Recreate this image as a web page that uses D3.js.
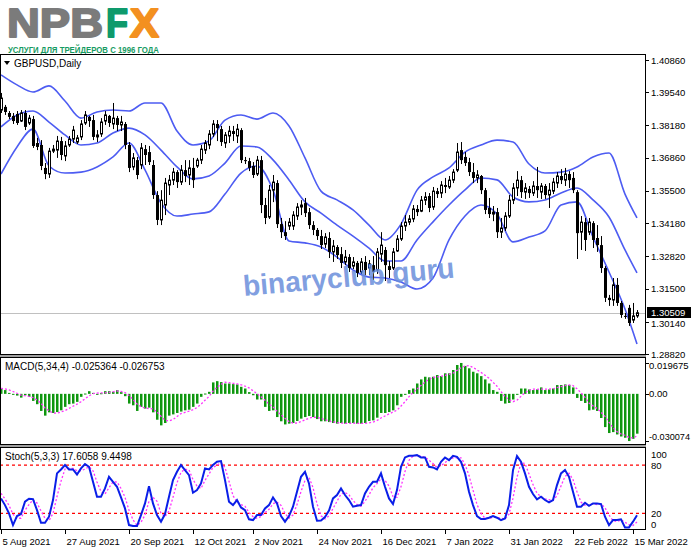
<!DOCTYPE html>
<html><head><meta charset="utf-8">
<script src="https://cdn.jsdelivr.net/npm/d3@7"></script>
<style>body{margin:0;background:#fff;}svg{display:block;font-family:"Liberation Sans",Arial,sans-serif;}</style>
</head><body><svg id="c" width="691" height="549"></svg>
<script>
const opens=[1.3881,1.3894,1.3869,1.3857,1.3865,1.3836,1.3869,1.3828,1.3844,1.3746,
1.3738,1.3644,1.3619,1.3713,1.3717,1.3754,1.3693,1.3738,1.3762,1.3750,
1.3771,1.3828,1.3853,1.3840,1.3771,1.3783,1.3836,1.3857,1.3824,1.3848,
1.3820,1.3824,1.3738,1.3648,1.3676,1.3656,1.3721,1.3709,1.3656,1.3533,
1.3431,1.3492,1.3574,1.3594,1.3627,1.3586,1.3635,1.3615,1.3644,1.3652,
1.3676,1.3717,1.3738,1.3783,1.3824,1.3803,1.3746,1.3775,1.3795,1.3775,
1.3799,1.3676,1.3672,1.3652,1.3619,1.3676,1.3492,1.3443,1.3553,1.3582,
1.3414,1.3381,1.3406,1.3406,1.3447,1.3484,1.3500,1.3463,1.3410,1.3390,
1.3365,1.3332,1.3357,1.3300,1.3320,1.3291,1.3259,1.3279,1.3242,1.3255,
1.3218,1.3259,1.3234,1.3246,1.3226,1.3291,1.3308,1.3242,1.3234,1.3304,
1.3353,1.3406,1.3422,1.3435,1.3476,1.3467,1.3512,1.3529,1.3484,1.3549,
1.3541,1.3574,1.3566,1.3594,1.3635,1.3717,1.3689,1.3668,1.3627,1.3603,
1.3611,1.3553,1.3480,1.3455,1.3463,1.3381,1.3398,1.3447,1.3512,1.3562,
1.3594,1.3545,1.3558,1.3541,1.3570,1.3545,1.3570,1.3533,1.3549,1.3582,
1.3611,1.3594,1.3619,1.3603,1.3545,1.3381,1.3422,1.3381,1.3418,1.3357,
1.3328,1.3234,1.3112,1.3103,1.3165,1.3091,1.3038,1.3071,1.3021,1.3038];
const highs=[1.3951,1.3902,1.3877,1.3869,1.3877,1.3881,1.3881,1.3861,1.3857,1.3767,
1.3758,1.3664,1.3726,1.3738,1.3775,1.3771,1.3754,1.3775,1.3816,1.3779,
1.3840,1.3877,1.3857,1.3861,1.3799,1.3848,1.3877,1.3861,1.3910,1.3857,
1.3857,1.3832,1.3750,1.3705,1.3689,1.3746,1.3738,1.3734,1.3676,1.3549,
1.3553,1.3603,1.3615,1.3644,1.3635,1.3656,1.3676,1.3676,1.3685,1.3685,
1.3738,1.3758,1.3799,1.3840,1.3840,1.3816,1.3791,1.3816,1.3816,1.3824,
1.3807,1.3689,1.3685,1.3668,1.3693,1.3693,1.3521,1.3574,1.3615,1.3594,
1.3439,1.3426,1.3439,1.3467,1.3500,1.3512,1.3521,1.3480,1.3426,1.3398,
1.3390,1.3377,1.3381,1.3349,1.3328,1.3320,1.3308,1.3291,1.3279,1.3263,
1.3275,1.3283,1.3267,1.3283,1.3316,1.3381,1.3320,1.3263,1.3316,1.3369,
1.3422,1.3451,1.3451,1.3492,1.3492,1.3529,1.3545,1.3541,1.3566,1.3562,
1.3590,1.3603,1.3611,1.3639,1.3746,1.3750,1.3709,1.3685,1.3664,1.3635,
1.3615,1.3562,1.3521,1.3488,1.3480,1.3439,1.3463,1.3533,1.3582,1.3631,
1.3611,1.3582,1.3570,1.3590,1.3648,1.3582,1.3578,1.3582,1.3603,1.3627,
1.3639,1.3644,1.3631,1.3627,1.3553,1.3447,1.3439,1.3439,1.3426,1.3410,
1.3365,1.3242,1.3124,1.3193,1.3193,1.3099,1.3050,1.3083,1.3091,1.3062];
const lows=[1.3869,1.3861,1.3844,1.3824,1.3820,1.3832,1.3799,1.3820,1.3726,1.3717,
1.3635,1.3598,1.3603,1.3705,1.3685,1.3676,1.3672,1.3730,1.3746,1.3742,
1.3758,1.3820,1.3812,1.3758,1.3750,1.3771,1.3820,1.3812,1.3803,1.3795,
1.3795,1.3721,1.3627,1.3635,1.3598,1.3639,1.3656,1.3656,1.3517,1.3410,
1.3410,1.3451,1.3533,1.3574,1.3562,1.3574,1.3586,1.3574,1.3562,1.3644,
1.3660,1.3701,1.3721,1.3771,1.3754,1.3734,1.3726,1.3746,1.3754,1.3746,
1.3664,1.3660,1.3631,1.3603,1.3611,1.3459,1.3414,1.3435,1.3504,1.3398,
1.3357,1.3349,1.3390,1.3390,1.3431,1.3451,1.3443,1.3394,1.3369,1.3349,
1.3312,1.3316,1.3275,1.3259,1.3271,1.3234,1.3246,1.3218,1.3230,1.3197,
1.3210,1.3205,1.3205,1.3185,1.3210,1.3259,1.3181,1.3193,1.3226,1.3300,
1.3345,1.3386,1.3410,1.3422,1.3447,1.3463,1.3492,1.3463,1.3472,1.3521,
1.3521,1.3541,1.3558,1.3582,1.3627,1.3660,1.3652,1.3611,1.3582,1.3582,
1.3537,1.3455,1.3439,1.3426,1.3357,1.3357,1.3386,1.3439,1.3496,1.3529,
1.3521,1.3517,1.3521,1.3529,1.3521,1.3517,1.3517,1.3480,1.3537,1.3562,
1.3578,1.3570,1.3562,1.3541,1.3271,1.3308,1.3304,1.3369,1.3316,1.3300,
1.3214,1.3095,1.3079,1.3079,1.3079,1.3030,1.3026,1.2997,1.3009,1.3030];
const closes=[1.3930,1.3873,1.3853,1.3836,1.3828,1.3869,1.3812,1.3848,1.3734,1.3730,
1.3652,1.3619,1.3713,1.3721,1.3754,1.3697,1.3734,1.3762,1.3799,1.3767,
1.3824,1.3861,1.3836,1.3771,1.3779,1.3832,1.3861,1.3828,1.3848,1.3820,
1.3832,1.3738,1.3644,1.3685,1.3615,1.3726,1.3697,1.3668,1.3533,1.3431,
1.3512,1.3582,1.3594,1.3627,1.3586,1.3635,1.3611,1.3644,1.3594,1.3676,
1.3721,1.3746,1.3783,1.3824,1.3807,1.3750,1.3779,1.3795,1.3783,1.3803,
1.3676,1.3672,1.3644,1.3615,1.3676,1.3492,1.3439,1.3553,1.3586,1.3414,
1.3381,1.3365,1.3422,1.3451,1.3484,1.3492,1.3459,1.3410,1.3390,1.3365,
1.3328,1.3361,1.3300,1.3324,1.3287,1.3255,1.3279,1.3234,1.3259,1.3214,
1.3259,1.3226,1.3251,1.3218,1.3300,1.3328,1.3246,1.3226,1.3300,1.3353,
1.3406,1.3422,1.3435,1.3476,1.3463,1.3512,1.3525,1.3480,1.3549,1.3537,
1.3574,1.3566,1.3594,1.3627,1.3709,1.3676,1.3664,1.3627,1.3603,1.3615,
1.3553,1.3472,1.3455,1.3463,1.3381,1.3398,1.3447,1.3512,1.3562,1.3594,
1.3545,1.3562,1.3541,1.3570,1.3553,1.3570,1.3533,1.3553,1.3586,1.3611,
1.3594,1.3619,1.3594,1.3553,1.3377,1.3422,1.3349,1.3422,1.3349,1.3328,
1.3234,1.3112,1.3103,1.3165,1.3091,1.3042,1.3034,1.3009,1.3038,1.30509];

const bandIdx=[0,4,8,12,16,20,24,28,32,36,40,44,48,52,56,60,64,68,72,76,80,84,88,92,96,100,104,108,112,116,120,124,128,132,136,140,144,148,152,156,159];
const bandUpper=[1.4025,1.3984,1.3955,1.3980,1.3918,1.3848,1.3873,1.3881,1.3877,1.3910,1.3910,1.3795,1.3738,1.3754,1.3840,1.3861,1.3844,1.3869,1.3816,1.3685,1.3549,1.3513,1.3472,1.3410,1.3349,1.3414,1.3553,1.3607,1.3644,1.3709,1.3738,1.3758,1.3750,1.3660,1.3623,1.3627,1.3648,1.3689,1.3705,1.3537,1.3439];
const bandMiddle=[1.3812,1.3861,1.3877,1.3832,1.3779,1.3738,1.3746,1.3787,1.3807,1.3779,1.3717,1.3648,1.3599,1.3611,1.3664,1.3734,1.3730,1.3677,1.3595,1.3505,1.3459,1.3410,1.3365,1.3316,1.3263,1.3263,1.3349,1.3423,1.3492,1.3554,1.3603,1.3595,1.3525,1.3505,1.3513,1.3541,1.3562,1.3513,1.3443,1.3308,1.3214];
const bandLower=[1.3619,1.3730,1.3803,1.3652,1.3623,1.3627,1.3648,1.3689,1.3746,1.3636,1.3500,1.3447,1.3455,1.3464,1.3537,1.3623,1.3652,1.3554,1.3345,1.3337,1.3320,1.3279,1.3226,1.3197,1.3193,1.3177,1.3148,1.3193,1.3349,1.3447,1.3492,1.3455,1.3341,1.3361,1.3386,1.3492,1.3505,1.3361,1.3218,1.3066,1.2923];

const macdHist=[0.0032,0.0024,0.0006,-0.0004,-0.0011,-0.0024,-0.0009,-0.0019,-0.0045,-0.0066,
-0.0109,-0.0139,-0.0118,-0.0122,-0.0116,-0.0105,-0.0083,-0.0066,-0.0062,-0.0051,
-0.0019,0.0002,0.0017,0.0006,-0.0004,0.0004,0.0017,0.0017,0.0013,0.0024,
0.0011,-0.0015,-0.0062,-0.0073,-0.0109,-0.0083,-0.0094,-0.0088,-0.0118,-0.0165,
-0.0201,-0.0186,-0.0139,-0.0131,-0.0122,-0.0113,-0.0105,-0.0101,-0.0083,-0.0062,
-0.0019,0.0002,0.0013,0.0073,0.0081,0.0075,0.0066,0.0066,0.0062,0.0060,
0.0045,0.0034,0.0011,-0.0009,-0.0036,-0.0036,-0.0083,-0.0109,-0.0105,-0.0148,
-0.0175,-0.0195,-0.0190,-0.0186,-0.0173,-0.0158,-0.0148,-0.0141,-0.0148,-0.0161,
-0.0175,-0.0175,-0.0180,-0.0186,-0.0190,-0.0186,-0.0190,-0.0186,-0.0186,-0.0190,
-0.0190,-0.0186,-0.0173,-0.0169,-0.0152,-0.0122,-0.0122,-0.0116,-0.0105,-0.0073,
-0.0019,-0.0004,0.0024,0.0034,0.0066,0.0092,0.0109,0.0105,0.0109,0.0120,
0.0113,0.0131,0.0131,0.0152,0.0184,0.0197,0.0178,0.0163,0.0141,0.0131,
0.0113,0.0092,0.0066,0.0024,0.0013,-0.0045,-0.0062,-0.0058,-0.0036,-0.0004,
0.0034,0.0034,0.0028,0.0024,0.0028,0.0041,0.0024,0.0028,0.0034,0.0056,
0.0056,0.0060,0.0056,0.0041,-0.0026,-0.0045,-0.0058,-0.0105,-0.0101,-0.0109,
-0.0154,-0.0212,-0.0250,-0.0244,-0.0259,-0.0272,-0.0280,-0.0301,-0.0287,-0.0254];
const macdSignal=[0.0035,0.0032,0.0025,0.0015,0.0004,-0.0008,-0.0012,-0.0016,-0.0024,-0.0039,
-0.0060,-0.0090,-0.0108,-0.0122,-0.0124,-0.0115,-0.0107,-0.0093,-0.0079,-0.0066,
-0.0050,-0.0032,-0.0013,0.0002,0.0005,0.0006,0.0006,0.0009,0.0013,0.0018,
0.0016,0.0008,-0.0011,-0.0035,-0.0065,-0.0082,-0.0090,-0.0094,-0.0096,-0.0116,
-0.0143,-0.0168,-0.0173,-0.0164,-0.0145,-0.0126,-0.0118,-0.0110,-0.0101,-0.0088,
-0.0066,-0.0041,-0.0017,0.0017,0.0042,0.0061,0.0074,0.0072,0.0067,0.0064,
0.0058,0.0050,0.0038,0.0020,0.0000,-0.0018,-0.0041,-0.0066,-0.0083,-0.0111,
-0.0134,-0.0156,-0.0177,-0.0187,-0.0186,-0.0177,-0.0166,-0.0155,-0.0149,-0.0150,
-0.0156,-0.0165,-0.0173,-0.0179,-0.0183,-0.0186,-0.0188,-0.0188,-0.0187,-0.0188,
-0.0188,-0.0189,-0.0185,-0.0180,-0.0170,-0.0154,-0.0141,-0.0128,-0.0116,-0.0104,
-0.0078,-0.0050,-0.0018,0.0009,0.0030,0.0054,0.0075,0.0093,0.0104,0.0108,
0.0112,0.0118,0.0124,0.0132,0.0150,0.0166,0.0177,0.0180,0.0169,0.0153,
0.0137,0.0119,0.0100,0.0074,0.0049,0.0015,-0.0018,-0.0038,-0.0050,-0.0040,
-0.0016,0.0007,0.0023,0.0030,0.0029,0.0030,0.0030,0.0030,0.0032,0.0040,
0.0046,0.0052,0.0057,0.0053,0.0033,0.0006,-0.0022,-0.0058,-0.0077,-0.0093,
-0.0117,-0.0144,-0.0181,-0.0215,-0.0241,-0.0256,-0.0264,-0.0278,-0.0282,-0.0268];

const stochMain=[38.6,30.3,20,5.5,16.7,19.2,34.5,38.2,37.8,24.1,
8.4,8.4,15.9,36.6,69.7,74.6,80,74.6,74.6,68.4,
75.9,81.2,77.9,59.3,40.7,40.7,51,65.5,59.3,53.1,
39.9,26.2,5.5,4.3,4.3,17.9,32.4,53.9,32.4,17.9,
9.7,19.2,40.7,61.4,71.7,80,73.8,67.6,45.7,49,
57.2,75.9,74.6,80,84.1,85,61.4,34.5,30.3,36.6,
27.4,24.1,12.6,11.7,17.9,17.9,26.2,30.3,39.9,32.4,
16.7,9.7,16.7,28.3,46.9,65.5,71.7,57.2,28.3,10.9,
11.3,15.4,23.5,38.6,42.8,51,42.8,36.6,28.3,29.5,
30.3,44.8,53.1,59.3,59.3,69.7,53.1,38.6,31.6,49,
77.9,89.5,91.6,91.6,92.4,89.5,89.5,77.9,77.1,74.6,
84.1,89.5,86.2,91.6,90.3,84.1,69.7,46.9,30.3,16.7,
13,13,14.6,16.7,14.6,11.7,13.8,30.3,73.8,91.2,
84.1,69.7,53.1,44,37.4,40.7,36.6,33.7,36.6,55.2,
69.7,73.8,65.5,46.9,28.3,28.3,33.2,29.5,32.4,32.4,
31.6,15.9,5.5,11.7,11.7,12.6,2.6,2.6,9.7,17.6058];
const stochSignal=[45,38,30,19,14,14,24,31,37,33,
23,14,11,20,41,60,75,76,76,73,
73,75,78,73,59,47,44,52,59,59,
51,40,24,12,5,9,18,35,40,35,
20,16,23,40,58,71,75,74,62,54,
51,61,69,77,80,83,77,60,42,34,
31,29,21,16,14,16,21,25,32,34,
30,20,14,18,31,47,61,65,52,32,
17,13,17,26,35,44,46,43,36,31,
29,35,43,52,57,63,61,54,41,40,
53,72,86,91,92,91,90,86,82,77,
79,83,87,89,89,89,81,67,49,31,
20,14,14,15,15,14,13,19,39,65,
83,82,69,56,45,41,38,37,36,42,
54,66,70,62,47,34,30,30,32,31,
32,27,18,11,10,12,9,6,5,9.4498];

const priceTicks=[1.40860,1.39540,1.38180,1.36860,1.35500,1.34180,1.32820,1.31500,1.30140,1.28820];
const macdTicks=[0.019675,0.00,-0.030074];
const macdTickLabels=["0.019675","0.00","-0.030074"];
const stochLevels=[80,20];
const stochTicks=[100,80,20,0];
const dateLabels=["5 Aug 2021","27 Aug 2021","20 Sep 2021","12 Oct 2021","2 Nov 2021","24 Nov 2021","16 Dec 2021","7 Jan 2022","31 Jan 2022","22 Feb 2022","15 Mar 2022"];
const dateIdx=[0,16,32,48,63,79,95,111,127,143,158];
const lastPrice=1.30509;
const symbolLabel="GBPUSD,Daily";
const macdLabel="MACD(5,34,4) -0.025364 -0.026753";
const stochLabel="Stoch(5,3,3) 17.6058 9.4498";

const svg=d3.select("#c");
const PR=645;
const main={top:54,bottom:354}, mp={top:357,bottom:444}, sp={top:447,bottom:529};
const x=d3.scaleLinear().domain([0,159]).range([1,637]);
const y=d3.scaleLinear().domain([1.2882,1.4086]).range([354,60]);
const ym=d3.scaleLinear().domain([-0.030074,0.019675]).range([441,363]);
const ys=d3.scaleLinear().domain([0,100]).range([529.5,449]);

svg.append("rect").attr("width",691).attr("height",549).attr("fill","#fff");

// logo
const logo=svg.append("g").attr("font-weight","bold").attr("font-family","'Liberation Sans',Arial,sans-serif");
const logoParts=[["NPB",7,96,"#7b7b7b"],["F",106,22,"#0e9a6c"],["X",130,29,"#f39020"]];
logoParts.forEach(([t,lx,w,c])=>{
  logo.append("text").attr("transform",`translate(${lx},37) scale(1,1.14)`).attr("font-size",35)
   .attr("fill",c).attr("stroke",c).attr("stroke-width",1.6).attr("stroke-linejoin","round")
   .attr("textLength",w).attr("lengthAdjust","spacingAndGlyphs").text(t);
});
logo.append("text").attr("x",8).attr("y",52.5).attr("font-size",9)
 .attr("fill","#169b62").attr("textLength",151).attr("lengthAdjust","spacingAndGlyphs").text("УСЛУГИ ДЛЯ ТРЕЙДЕРОВ С 1996 ГОДА");

// clips
const defs=svg.append("defs");
[["cm",main],["cmacd",mp],["cst",sp]].forEach(([id,p])=>{
  defs.append("clipPath").attr("id",id).append("rect").attr("x",1).attr("y",p.top+1).attr("width",PR-1).attr("height",p.bottom-p.top-1);
});

// panel frames
[main,mp,sp].forEach(p=>{
  svg.append("rect").attr("x",0.5).attr("y",p.top+0.5).attr("width",PR).attr("height",p.bottom-p.top)
   .attr("fill","none").attr("stroke","#000").attr("stroke-width",1);
});
svg.append("rect").attr("x",0).attr("y",355).attr("width",PR+1).attr("height",2).attr("fill","#a0a0a0");
svg.append("rect").attr("x",0).attr("y",445).attr("width",PR+1).attr("height",2).attr("fill","#a0a0a0");

// main panel
const gm=svg.append("g").attr("clip-path","url(#cm)");
gm.append("line").attr("x1",0).attr("x2",PR).attr("y1",Math.round(y(lastPrice))+0.5).attr("y2",Math.round(y(lastPrice))+0.5)
 .attr("stroke","#c0c0c0").attr("stroke-width",1);
const bandLine=d3.line().x((d,i)=>x(bandIdx[i])).y(d=>y(d)).curve(d3.curveMonotoneX);
[bandUpper,bandMiddle,bandLower].forEach(b=>{
  gm.append("path").attr("d",bandLine(b)).attr("fill","none").attr("stroke","#4d5cf2").attr("stroke-width",1.6);
});
const idx=d3.range(closes.length);
idx.forEach(i=>{
  const xi=Math.round(x(i));
  gm.append("line").attr("x1",xi+0.5).attr("x2",xi+0.5).attr("y1",y(highs[i])).attr("y2",y(lows[i])).attr("stroke","#000").attr("stroke-width",1);
  const top=y(Math.max(opens[i],closes[i])), bot=y(Math.min(opens[i],closes[i]));
  if(closes[i]>=opens[i]){
    gm.append("rect").attr("x",xi-0.5).attr("y",top).attr("width",2).attr("height",Math.max(1,bot-top))
     .attr("fill","#fff").attr("stroke","#000").attr("stroke-width",1);
  } else {
    gm.append("rect").attr("x",xi-1).attr("y",top).attr("width",3).attr("height",Math.max(1,bot-top)).attr("fill","#000");
  }
});
// watermark
svg.append("text").attr("transform","translate(244,296) rotate(-5)").attr("font-size",29).attr("font-weight","bold")
 .attr("font-family","'Liberation Sans',Arial,sans-serif").attr("fill","#6a8edb").attr("fill-opacity",0.85)
 .attr("textLength",212).attr("lengthAdjust","spacingAndGlyphs").text("binaryclub.guru");

svg.append("path").attr("d","M4,61 L10,61 L7,65 Z").attr("fill","#000");
svg.append("text").attr("x",14).attr("y",67).attr("font-size",10).attr("fill","#000").text(symbolLabel);

// price axis
priceTicks.forEach(p=>{
  svg.append("line").attr("x1",PR+1).attr("x2",PR+4).attr("y1",Math.round(y(p))+0.5).attr("y2",Math.round(y(p))+0.5).attr("stroke","#000");
  const ty=Math.abs(p-1.30140)<1e-6?y(p)+5:y(p)+3.5;
  svg.append("text").attr("x",651).attr("y",ty).attr("font-size",9.5).attr("fill","#000").text(p.toFixed(5));
});
const ly=Math.round(y(lastPrice));
svg.append("rect").attr("x",647).attr("y",ly-6).attr("width",44).attr("height",11).attr("fill","#000");
svg.append("text").attr("x",651).attr("y",ly+3).attr("font-size",9.5).attr("fill","#fff").text(lastPrice.toFixed(5));

// MACD
const gmac=svg.append("g").attr("clip-path","url(#cmacd)");
idx.forEach(i=>{
  const xi=Math.round(x(i)); const v=macdHist[i];
  const y0=ym(0), y1=ym(v);
  const yt=Math.min(y0,y1), hh=Math.max(1,Math.abs(y1-y0));
  gmac.append("rect").attr("x",xi-1).attr("y",yt).attr("width",2).attr("height",hh).attr("fill","#0f960f");
  gmac.append("rect").attr("x",xi+1).attr("y",yt).attr("width",1).attr("height",hh).attr("fill","#86cf86");
});
gmac.append("path").attr("d",d3.line().x((d,i)=>x(i)).y(d=>ym(d))(macdSignal)).attr("fill","none")
 .attr("stroke","#ff33ff").attr("stroke-width",1.3).attr("stroke-dasharray","2,2");
svg.append("text").attr("x",5).attr("y",370).attr("font-size",10).attr("fill","#000").text(macdLabel);
macdTicks.forEach((v,k)=>{
  const yy=ym(v);
  svg.append("line").attr("x1",PR+1).attr("x2",PR+4).attr("y1",Math.round(yy)+0.5).attr("y2",Math.round(yy)+0.5).attr("stroke","#000");
  const ty=k===0?yy+6:(k===2?yy-1:yy+3.5);
  const t=svg.append("text").attr("x",649).attr("y",ty).attr("font-size",9.5).attr("fill","#000").text(macdTickLabels[k]);
  if(k===2) t.attr("textLength",41).attr("lengthAdjust","spacingAndGlyphs");
});

// Stoch
const gst=svg.append("g").attr("clip-path","url(#cst)");
stochLevels.forEach(l=>{
  gst.append("line").attr("x1",0).attr("x2",PR).attr("y1",ys(l)).attr("y2",ys(l)).attr("stroke","#ff0000")
   .attr("stroke-width",1.2).attr("stroke-dasharray","3,3");
});
gst.append("path").attr("d",d3.line().x((d,i)=>x(i)).y(d=>ys(d))(stochSignal)).attr("fill","none")
 .attr("stroke","#ff33ff").attr("stroke-width",1.3).attr("stroke-dasharray","2,2");
gst.append("path").attr("d",d3.line().x((d,i)=>x(i)).y(d=>ys(d))(stochMain)).attr("fill","none")
 .attr("stroke","#0a1ee8").attr("stroke-width",2);
svg.append("text").attr("x",5).attr("y",460).attr("font-size",10).attr("fill","#000").text(stochLabel);
const stY={100:458,80:469,20:517,0:528};
stochTicks.forEach(t=>{
  svg.append("text").attr("x",651).attr("y",stY[t]).attr("font-size",9.5).attr("fill","#000").text(t);
});

// date axis
dateIdx.forEach((di,k)=>{
  const xi=Math.round(x(di))+0.5;
  svg.append("line").attr("x1",xi).attr("x2",xi).attr("y1",sp.bottom+1).attr("y2",sp.bottom+5).attr("stroke","#000");
  svg.append("text").attr("x",xi+1).attr("y",545).attr("font-size",9.5).attr("fill","#000").text(dateLabels[k]);
});
</script></body></html>
